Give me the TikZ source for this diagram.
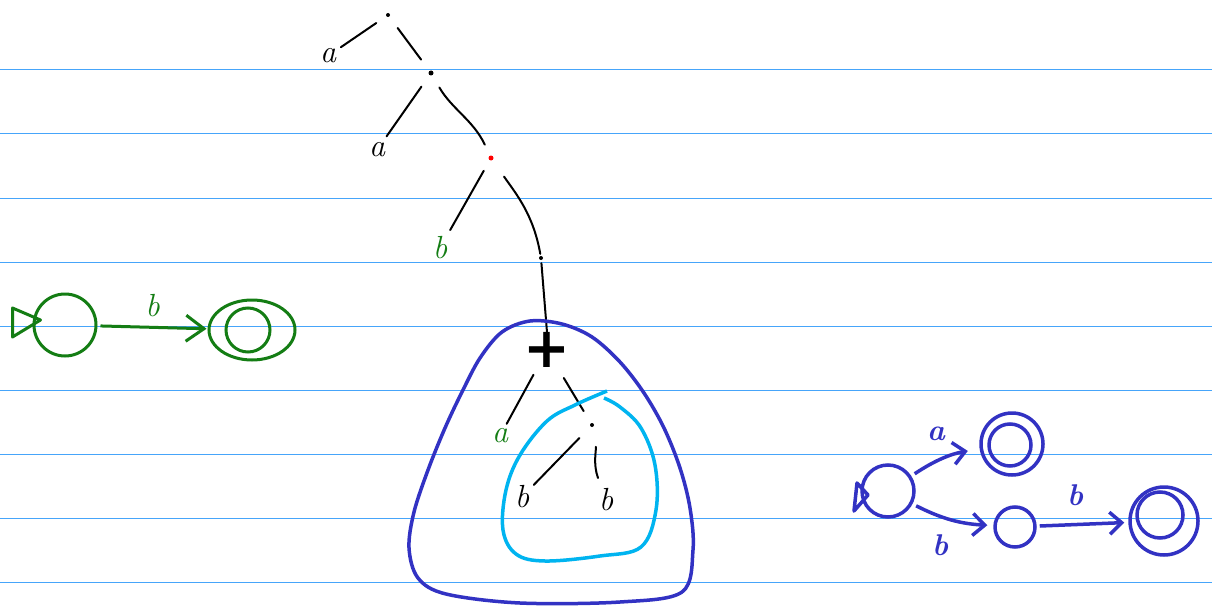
\documentclass[tikz,border=0pt]{standalone}
\usepackage{fontspec}
\newfontfamily\plusfont{DejaVu Sans}
\usetikzlibrary{shapes.geometric,arrows.meta,positioning}
\definecolor{rulecol}{RGB}{70,165,250}
\definecolor{grn}{RGB}{20,125,20}
\definecolor{dblue}{RGB}{50,50,195}
\definecolor{lblue}{RGB}{0,180,240}
\begin{document}
\begin{tikzpicture}[x=1pt,y=-1pt,
  paperline/.style={draw=rulecol,line width=1pt},
  tedge/.style={draw=black,line width=2pt,line cap=round},
  lbl/.style={font=\fontsize{32}{32}\selectfont\itshape,inner sep=3pt},
  blbl/.style={font=\fontsize{30}{30}\selectfont\itshape\bfseries,inner sep=3pt,text=dblue},
  tdot/.style={circle,fill=black,inner sep=0pt,minimum size=4pt},
  gstate/.style={draw=grn,line width=3pt,circle,inner sep=0pt},
  bstate/.style={draw=dblue,line width=3.5pt,circle,inner sep=0pt},
  gtip/.style={-{Straight Barb[length=18pt,width=26pt,line width=3pt]}},
  btip/.style={-{Straight Barb[length=12pt,width=22pt,line width=3.5pt]}}
]
\useasboundingbox (0,0) rectangle (1212,607);
\fill[white] (0,0) rectangle (1212,607);
% ruled paper
\foreach \yy in {70,134,198,262,326,390,454,518,582}
  \draw[paperline] (0,\yy) -- (1212,\yy);

% ---- tree ----
\node[tdot] (r) at (388,15) {};
\node[lbl] (a1) at (328,56) {a};
\node[tdot,minimum size=5pt] (n2) at (431,73) {};
\node[lbl] (a2) at (377,150) {a};
\node[circle,fill=red,inner sep=0pt,minimum size=5pt] (n3) at (491,158) {};
\node[lbl,text=grn] (b1) at (440,248) {b};
\node[tdot] (n4) at (541,258) {};
\node[font=\fontsize{56}{56}\selectfont\plusfont\bfseries,inner sep=0pt] (pl) at (547,350) {+};
\node[lbl,text=grn] (a3) at (500,436) {a};
\node[tdot] (n5) at (592,425) {};
\node[lbl] (b2) at (522,497) {b};
\node[lbl] (b3) at (606,500) {b};

\draw[tedge,shorten <=12pt,shorten >=2pt] (r) -- (a1);
\draw[tedge,shorten <=14pt,shorten >=14pt] (r) -- (n2);
\draw[tedge,shorten <=14pt,shorten >=4pt] (n2) -- (a2);
\draw[tedge,shorten <=14pt,shorten >=12pt] (n2) to[out=-60,in=115] (n3);
\draw[tedge,shorten <=12pt,shorten >=4pt] (n3) -- (b1);
\draw[tedge,shorten <=20pt,shorten >=2pt] (n3) to[out=-55,in=100] (n4);
\draw[tedge,shorten <=3pt,shorten >=-4pt] (n4) -- (pl.north);
\draw[tedge,shorten <=8pt,shorten >=2pt] (pl) -- (a3);
\draw[tedge,shorten <=12pt,shorten >=14pt] (pl) -- (n5);
\draw[tedge,shorten <=16pt,shorten >=2pt] (n5) -- (b2);
\draw[tedge,shorten <=20pt,shorten >=8pt] (n5) to[out=-80,in=110] (b3);

% ---- loops ----
\draw[dblue,line width=3.5pt] plot[smooth cycle,tension=0.55] coordinates {
 (530,321) (502,332) (480,358) (462,392) (445,428) (428,470) (414,512)
 (409,548) (418,578) (446,594) (520,603) (620,602) (682,592) (693,550)
 (690,508) (680,468) (664,428) (644,393) (620,362) (592,337) (562,324)};
\draw[lblue,line width=3.5pt] plot[smooth,tension=0.6] coordinates {
 (607,391) (575,405) (547,421) (520,455) (506,490) (503,530) (516,554)
 (545,561) (600,556) (641,547) (656,510) (655,465) (641,428) (620,407) (604,398)};

% ---- green automaton ----
\node[gstate,minimum size=62pt] (g0) at (65,325) {};
\node[draw=grn,line width=3pt,ellipse,minimum width=86pt,minimum height=60pt,inner sep=0pt] (g1) at (252,330) {};
\node[gstate,minimum size=44pt] (g1i) at (248,330) {};
\draw[grn,line width=3pt,line join=round] ([xshift=-20pt,yshift=-12pt]g0.west) -- ([xshift=-20pt,yshift=17pt]g0.west) -- ([xshift=8pt,yshift=5pt]g0.west) -- cycle;
\draw[grn,line width=3pt,gtip,shorten <=3pt,shorten >=1pt] (g0) -- node[lbl,text=grn,above=6pt] (gl) {b} (g1);

% ---- blue automaton ----
\node[bstate,minimum size=52pt] (s0) at (888,491) {};
\node[bstate,minimum size=62pt] (f1) at (1012,444) {};
\node[bstate,minimum size=42pt] (f1i) at (1010,445) {};
\node[bstate,minimum size=40pt] (s2) at (1015,527) {};
\node[bstate,minimum size=68pt] (f2) at (1164,521) {};
\node[bstate,minimum size=46pt] (f2i) at (1160,515) {};
\draw[dblue,line width=3.5pt,line join=round] ([xshift=-34pt,yshift=-20pt]s0.center) -- ([xshift=-31pt,yshift=8pt]s0.center) -- ([xshift=-20pt,yshift=-4pt]s0.center) -- cycle;
\node[blbl] (la) at (936,434) {a};
\node[blbl] (lb1) at (940,545) {b};
\node[blbl] (lb2) at (1075,495) {b};
\draw[dblue,line width=3.5pt,btip,shorten <=4pt,shorten >=12pt] (s0) to[bend left=12] (f1);
\draw[dblue,line width=3.5pt,btip,shorten <=4pt,shorten >=6pt] (s0) to[bend right=12] (s2);
\draw[dblue,line width=3.5pt,btip,shorten <=3pt,shorten >=4pt] (s2) -- (f2);
\end{tikzpicture}
\end{document}
